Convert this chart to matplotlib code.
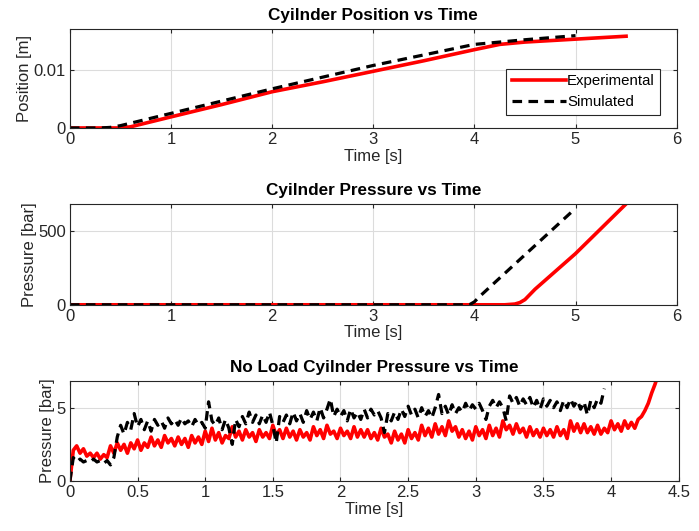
import matplotlib
matplotlib.use("Agg")
import matplotlib.pyplot as plt
import numpy as np

plt.rcParams['font.family'] = ['Liberation Sans', 'DejaVu Sans']

# --- Panel 1: cylinder position ---
pos_t_exp = [0, 0.3, 0.5, 0.6, 1.0, 1.5, 2.0, 2.5, 3.0, 3.5, 4.0, 4.25, 4.5, 5.0, 5.5]
pos_exp = [0, 0, 0, 0.0002, 0.0019, 0.0040, 0.0062, 0.0079, 0.0097, 0.0115, 0.0134, 0.0143, 0.0147, 0.0152, 0.0157]
pos_t_sim = [0, 0.3, 0.4, 0.5, 1.0, 1.5, 2.0, 2.5, 3.0, 3.5, 4.0, 4.25, 4.5, 5.0]
pos_sim = [0, 0, 0.0001, 0.0004, 0.0025, 0.0046, 0.0067, 0.0087, 0.0107, 0.0125, 0.0143, 0.0147, 0.0151, 0.0158]

# --- Panel 2: cylinder pressure ---
pr_t_exp = [0, 4.3, 4.4, 4.45, 4.5, 4.55, 4.6, 5.0, 5.5]
pr_exp = [0, 0, 5, 15, 35, 70, 105, 345, 680]
pr_t_sim = [0, 3.95, 4.0, 4.05, 5.0]
pr_sim = [0, 0, 20, 55, 650]

# --- Panel 3: no-load cylinder pressure (sampled every 25 ms) ---
nl_dt = 0.025
nl_exp = [0, 2.1, 2.4, 1.9, 2.2, 1.7, 1.9, 1.6,
          1.9, 1.5, 1.8, 1.6, 2.4, 1.9, 2.6, 2.1,
          2.5, 1.9, 2.6, 2.2, 2.8, 2.1, 2.6, 2.3,
          3.0, 2.4, 2.8, 2.3, 3.1, 2.6, 2.9, 2.4,
          3.0, 2.5, 2.9, 2.3, 3.1, 2.6, 3.0, 2.5,
          3.4, 2.7, 3.6, 2.8, 3.3, 2.6, 3.1, 2.9,
          3.7, 3.0, 3.4, 2.8, 3.5, 3.0, 3.3, 2.7,
          3.5, 3.0, 3.3, 2.9, 3.8, 3.1, 3.5, 2.9,
          3.6, 3.0, 3.4, 2.8, 3.5, 3.0, 3.3, 2.8,
          3.7, 3.1, 3.5, 2.9, 3.8, 3.2, 3.4, 2.9,
          3.6, 3.1, 3.4, 2.9, 3.7, 3.0, 3.5, 3.0,
          3.5, 2.9, 3.3, 2.8, 3.6, 3.0, 3.2, 2.6,
          3.4, 2.8, 3.2, 2.6, 3.5, 2.9, 3.3, 2.8,
          3.8, 3.1, 3.6, 3.0, 3.9, 3.2, 3.7, 3.1,
          4.1, 3.4, 3.7, 3.0, 3.5, 2.9, 3.4, 2.8,
          3.7, 3.1, 3.5, 2.9, 3.8, 3.1, 3.6, 3.0,
          4.1, 3.5, 3.8, 3.2, 3.9, 3.3, 3.6, 3.0,
          3.7, 3.1, 3.5, 3.0, 3.6, 3.1, 3.5, 3.0,
          3.7, 3.1, 3.5, 2.9, 4.1, 3.4, 3.9, 3.3,
          3.9, 3.3, 3.7, 3.2, 3.8, 3.2, 3.6, 3.3,
          4.1, 3.5, 3.9, 3.4, 4.1, 3.6, 4.0, 3.6,
          4.2, 4.4, 4.8, 5.3, 6.0, 6.6, 7.3]
nl_sim = [0, 1.6, 1.3, 1.5, 1.3, 1.4, 1.3, 1.5,
          1.3, 1.4, 1.2, 1.4, 1.1, 1.6, 3.0, 3.8,
          3.2, 4.0, 3.5, 4.6, 3.7, 4.2, 3.5, 4.1,
          3.4, 4.2, 3.8, 4.1, 3.6, 4.3, 3.9, 4.2,
          3.8, 4.3, 3.9, 4.1, 3.7, 4.2, 3.8, 4.0,
          3.6, 5.4, 4.1, 3.8, 4.3, 3.5, 4.2, 3.6,
          2.5, 4.2, 3.7, 4.4, 3.9, 4.7, 4.0, 4.5,
          3.9, 4.5, 4.0, 4.7, 3.8, 2.6, 4.4, 4.0,
          4.5, 3.9, 4.7, 4.1, 4.6, 4.0, 4.8, 4.2,
          4.7, 4.1, 5.0, 4.3, 4.9, 5.6, 4.4, 4.9,
          4.4, 4.8, 4.1, 4.9, 4.3, 4.7, 4.2, 4.9,
          4.3, 4.9, 4.5, 4.8, 4.3, 3.3, 4.6, 4.1,
          4.7, 4.2, 4.9, 4.4, 5.1, 4.5, 4.9, 4.3,
          5.0, 4.4, 4.8, 4.3, 5.0, 5.9, 4.6, 5.1,
          4.5, 5.2, 4.6, 5.0, 4.7, 5.3, 4.8, 5.2,
          4.9, 5.3, 4.8, 4.2, 5.1, 5.5, 5.0, 5.4,
          5.0, 4.1, 5.8, 5.3, 5.7, 5.1, 5.6, 5.2,
          5.7, 5.0, 5.5, 4.9, 5.6, 5.1, 5.5, 5.0,
          5.4, 4.8, 5.5, 5.0, 5.6, 5.1, 5.5, 4.9,
          5.4, 4.5, 5.5, 5.0, 5.6, 5.3, 6.3]
nl_t_exp = np.arange(len(nl_exp)) * nl_dt
nl_t_sim = np.arange(len(nl_sim)) * nl_dt

text_col = '#262626'
fig = plt.figure(figsize=(6.99, 5.31), dpi=100)

ax1 = fig.add_axes([0.100, 0.759, 0.868, 0.186])
ax2 = fig.add_axes([0.100, 0.426, 0.868, 0.190])
ax3 = fig.add_axes([0.100, 0.094, 0.871, 0.188])

ax1.plot(pos_t_exp, pos_exp, color='red', lw=2.6, label='Experimental')
ax1.plot(pos_t_sim, pos_sim, color='black', lw=2.3, ls=(0, (3, 2)), label='Simulated')
ax1.set_xlim(0, 6)
ax1.set_ylim(0, 0.0169)
ax1.set_yticks([0, 0.01])
ax1.set_yticklabels(['0', '0.01'])
ax1.set_title('Cyilnder Position vs Time')
ax1.set_ylabel('Position [m]')
leg = ax1.legend(loc='lower right', bbox_to_anchor=(0.985, 0.06), fancybox=False,
                 framealpha=1, edgecolor=text_col, handlelength=3.6, handletextpad=0.1,
                 borderpad=0.35, labelspacing=0.5, fontsize=10.8)
leg.get_frame().set_linewidth(0.8)

ax2.plot(pr_t_exp, pr_exp, color='red', lw=2.6)
ax2.plot(pr_t_sim, pr_sim, color='black', lw=2.3, ls=(0, (3, 2)))
ax2.set_xlim(0, 6)
ax2.set_ylim(0, 680)
ax2.set_yticks([0, 500])
ax2.set_title('Cyilnder Pressure vs Time')
ax2.set_ylabel('Pressure [bar]')

ax3.plot(nl_t_exp, nl_exp, color='red', lw=2.6)
ax3.plot(nl_t_sim, nl_sim, color='black', lw=2.3, ls=(0, (3, 2)))
ax3.set_xlim(0, 4.5)
ax3.set_ylim(0, 6.8)
ax3.set_xticks([0, 0.5, 1, 1.5, 2, 2.5, 3, 3.5, 4, 4.5])
ax3.set_xticklabels(['0', '0.5', '1', '1.5', '2', '2.5', '3', '3.5', '4', '4.5'])
ax3.set_yticks([0, 5])
ax3.set_title('No Load Cyilnder Pressure vs Time')
ax3.set_ylabel('Pressure [bar]')

for ax in (ax1, ax2, ax3):
    ax.set_xlabel('Time [s]', fontsize=12, color=text_col, labelpad=1)
    ax.yaxis.label.set_fontsize(12)
    ax.yaxis.label.set_color(text_col)
    ax.yaxis.labelpad = 1
    ax.set_title(ax.get_title(), fontsize=12.3, fontweight='bold', pad=6.5)
    ax.grid(True, color='#dcdcdc', lw=0.8)
    ax.set_axisbelow(True)
    ax.tick_params(direction='in', length=3, labelsize=12, colors=text_col,
                   top=True, right=True, pad=3)
    for s in ax.spines.values():
        s.set_color(text_col)
        s.set_linewidth(0.8)

fig.savefig('out.png', dpi=100)
